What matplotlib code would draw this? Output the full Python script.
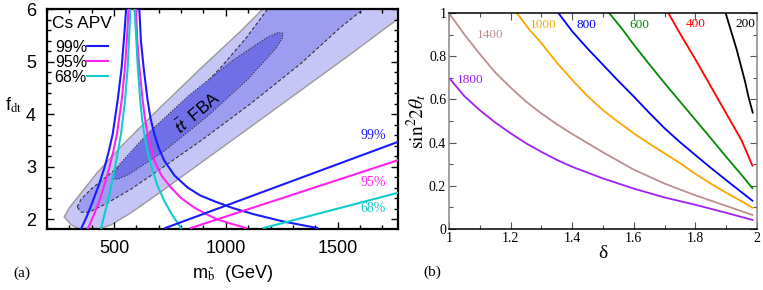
import matplotlib
matplotlib.use("Agg")
import matplotlib.pyplot as plt
from matplotlib.ticker import MultipleLocator

plt.rcParams['font.family'] = ['Liberation Sans', 'DejaVu Sans']
plt.rcParams['mathtext.fontset'] = 'stix'

# ---------------- panel (a): tt FBA regions (boundary points) ----------------
outer_m = [277, 299, 353, 424, 531, 710, 888, 1067, 1165, 1210, 1250, 1900,
           1900, 1772, 1558, 1335, 1112, 888, 710, 576, 487, 420, 353, 308]
outer_f = [2.04, 2.21, 2.50, 2.88, 3.38, 4.14, 4.87, 5.58, 6.00, 6.17, 6.5, 6.5,
           6.1, 5.82, 5.14, 4.45, 3.76, 3.07, 2.52, 2.12, 1.89, 1.79, 1.79, 1.89]

mid_m = [335, 353, 397, 487, 589, 710, 844, 978, 1089, 1187, 1223, 1240,
         1680, 1665, 1616, 1513, 1335, 1112, 888, 710, 576, 464, 388, 353]
mid_f = [2.23, 2.38, 2.57, 2.88, 3.26, 3.72, 4.28, 4.89, 5.44, 6.00, 6.17, 6.5,
         6.5, 6.17, 6.00, 5.65, 4.96, 4.20, 3.49, 2.96, 2.57, 2.29, 2.13, 2.13]

inner_m = [495, 498, 526, 650, 834, 1030, 1184, 1232, 1255, 1252, 1224, 1100,
           916, 720, 566, 518]
inner_f = [2.76, 2.86, 3.05, 3.63, 4.35, 5.02, 5.46, 5.55, 5.54, 5.44, 5.25, 4.67,
           3.95, 3.28, 2.85, 2.76]

# Cs APV bounds: left branch, right branch and straight band per CL
blue_l_m = [352, 378, 405, 432, 457, 477, 494, 516, 534, 546, 554]
blue_l_f = [1.81, 2.05, 2.34, 2.65, 2.98, 3.30, 3.62, 4.26, 4.89, 5.53, 6.0]
mag_l_m = [382, 407, 434, 457, 479, 497, 513, 534, 549, 559, 565]
mag_l_f = [1.81, 2.05, 2.34, 2.65, 2.98, 3.30, 3.62, 4.26, 4.89, 5.53, 6.0]
cyan_l_m = [441, 455, 472, 488, 504, 518, 531, 549, 561, 568, 573]
cyan_l_f = [1.81, 2.05, 2.34, 2.65, 2.98, 3.30, 3.62, 4.26, 4.89, 5.53, 6.0]

blue_r_m = [613, 620, 632, 650, 663, 680, 700, 725, 770, 829, 885, 948, 1030,
            1126, 1260, 1409]
blue_r_f = [6.0, 5.4, 4.89, 4.26, 3.92, 3.62, 3.35, 3.11, 2.83, 2.60, 2.45, 2.34,
            2.21, 2.09, 1.95, 1.83]
mag_r_m = [598, 604, 613, 628, 638, 650, 665, 680, 712, 754, 800, 858, 910, 963,
           1025, 1089]
mag_r_f = [6.0, 5.4, 4.89, 4.26, 3.92, 3.62, 3.35, 3.11, 2.83, 2.60, 2.40, 2.22,
           2.10, 1.99, 1.91, 1.83]
cyan_r_m = [591, 598, 606, 617, 625, 635, 650, 668, 693, 725, 760, 799]
cyan_r_f = [6.0, 5.53, 4.89, 4.26, 3.92, 3.62, 3.28, 2.98, 2.65, 2.34, 2.08, 1.83]

blue_s_m, blue_s_f = [730, 1770], [1.83, 3.47]
mag_s_m, mag_s_f = [844, 1770], [1.83, 3.12]
cyan_s_m, cyan_s_f = [1170, 1770], [1.83, 2.50]

cl_labels = ['99%', '95%', '68%']
cl_label_f = [3.60, 2.70, 2.20]

# ---------------- panel (b): sin^2 2theta_t vs delta ----------------
d_1800 = [1.0, 1.05, 1.1, 1.15, 1.2, 1.25, 1.3, 1.35, 1.4, 1.5, 1.6, 1.7, 1.8,
          1.9, 1.985]
s_1800 = [0.70, 0.615, 0.55, 0.493, 0.443, 0.397, 0.357, 0.32, 0.288, 0.234,
          0.187, 0.146, 0.112, 0.075, 0.042]
d_1400 = [1.0, 1.05, 1.1, 1.15, 1.2, 1.25, 1.3, 1.35, 1.4, 1.5, 1.6, 1.7, 1.8,
          1.9, 1.985]
s_1400 = [1.0, 0.90, 0.81, 0.725, 0.655, 0.59, 0.535, 0.485, 0.44, 0.355, 0.275,
          0.21, 0.156, 0.107, 0.065]
d_1000 = [1.22, 1.26, 1.3, 1.35, 1.4, 1.45, 1.5, 1.55, 1.6, 1.65, 1.7, 1.75, 1.8,
          1.85, 1.9, 1.95, 1.985]
s_1000 = [1.0, 0.925, 0.86, 0.77, 0.69, 0.615, 0.55, 0.495, 0.443, 0.395, 0.35,
          0.305, 0.255, 0.21, 0.168, 0.128, 0.099]
d_800 = [1.355, 1.4, 1.45, 1.5, 1.55, 1.6, 1.65, 1.7, 1.75, 1.8, 1.85, 1.9, 1.95,
         1.985]
s_800 = [1.0, 0.915, 0.835, 0.76, 0.685, 0.613, 0.538, 0.466, 0.402, 0.342, 0.283,
         0.226, 0.17, 0.131]
d_600 = [1.52, 1.56, 1.6, 1.65, 1.7, 1.75, 1.8, 1.85, 1.9, 1.95, 1.985]
s_600 = [1.0, 0.93, 0.853, 0.763, 0.675, 0.59, 0.505, 0.42, 0.334, 0.25, 0.189]
d_400 = [1.712, 1.75, 1.8, 1.85, 1.9, 1.95, 1.985]
s_400 = [1.0, 0.905, 0.785, 0.66, 0.535, 0.41, 0.293]
d_200 = [1.898, 1.934, 1.961, 1.972, 1.986]
s_200 = [1.0, 0.83, 0.683, 0.613, 0.539]

masses = ['1800', '1400', '1000', '800', '600', '400', '200']
colors_b = ['#a020f0', '#bc8f8f', '#ffa500', '#0000ff', '#008b00', '#ff0000', '#000000']
label_d = [1.068, 1.133, 1.304, 1.447, 1.618, 1.802, 1.963]
label_s = [0.69, 0.90, 0.946, 0.946, 0.946, 0.95, 0.95]

fig = plt.figure(figsize=(7.63, 2.90), dpi=100)
ax1 = fig.add_axes([0.0616, 0.2103, 0.460, 0.7586])
ax2 = fig.add_axes([0.5885, 0.2103, 0.4037, 0.7448])

# ---- panel (a) ----
ax1.fill(outer_m, outer_f, facecolor='#c6c6f6', edgecolor='#9a9a9a', lw=1.0, zorder=1)
ax1.fill(mid_m, mid_f, facecolor='#9c9cf0', edgecolor='#333333', lw=0.8,
         ls=(0, (3, 2)), zorder=2)
ax1.fill(inner_m, inner_f, facecolor='#7070e6', edgecolor='#333333', lw=0.8,
         ls=(0, (1, 1.5)), zorder=3)

blue, mag, cyan = '#1a1aff', '#ff22f0', '#10cccc'
lw = 1.5
hb, = ax1.plot(blue_l_m, blue_l_f, color=blue, lw=lw, zorder=5)
hm, = ax1.plot(mag_l_m, mag_l_f, color=mag, lw=lw, zorder=5)
hc, = ax1.plot(cyan_l_m, cyan_l_f, color=cyan, lw=lw, zorder=5)
ax1.plot(blue_r_m, blue_r_f, color=blue, lw=lw, zorder=5)
ax1.plot(mag_r_m, mag_r_f, color=mag, lw=lw, zorder=5)
ax1.plot(cyan_r_m, cyan_r_f, color=cyan, lw=lw, zorder=5)
ax1.plot(blue_s_m, blue_s_f, color=blue, lw=lw, zorder=5)
ax1.plot(mag_s_m, mag_s_f, color=mag, lw=lw, zorder=5)
ax1.plot(cyan_s_m, cyan_s_f, color=cyan, lw=lw, zorder=5)

for lab, fy, c in zip(cl_labels, cl_label_f, [blue, mag, cyan]):
    ax1.text(1715, fy, lab, color=c, ha='right', va='center', fontsize=10,
             family='Liberation Serif')

ax1.text(870, 4.02, r'$\mathsf{t\bar{t}}$  FBA', rotation=40, ha='center',
         va='center', fontsize=12.5, zorder=6)

# legend: title as text, entries below with the line after the label
ax1.text(0.014, 0.936, 'Cs APV', transform=ax1.transAxes, ha='left',
         va='center', fontsize=12.5, zorder=7)
leg = ax1.legend([hb, hm, hc], cl_labels, loc='upper left',
                 bbox_to_anchor=(0.022, 0.86), markerfirst=False,
                 frameon=False, fontsize=11.5, handlelength=1.3,
                 handletextpad=0.0, labelspacing=0.0, borderaxespad=0.0,
                 borderpad=0.0)
leg.set_zorder(7)

ax1.set_xlim(200, 1770)
ax1.set_ylim(1.81, 6)
ax1.set_xticks([500, 1000, 1500])
ax1.xaxis.set_minor_locator(MultipleLocator(100))
ax1.set_yticks([2, 3, 4, 5, 6])
ax1.set_yticklabels(['2', '3', '4', '5', '6'])
ax1.yaxis.set_minor_locator(MultipleLocator(0.2))
ax1.tick_params(which='both', direction='in', top=True, right=True,
                labelsize=13, width=1)
ax1.tick_params(which='major', length=5, pad=8)
ax1.tick_params(which='minor', length=3)
for s in ax1.spines.values():
    s.set_linewidth(1.6)
ax1.set_xlabel(r'm$_{\tilde{\rm b}}$  (GeV)', fontsize=13)
ax1.xaxis.set_label_coords(0.53, -0.155)
ax1.set_ylabel(r'f$_{\rm dt}$', fontsize=13, rotation=0)
ax1.yaxis.set_label_coords(-0.095, 0.52)

# ---- panel (b) ----
curves = [(d_1800, s_1800), (d_1400, s_1400), (d_1000, s_1000), (d_800, s_800),
          (d_600, s_600), (d_400, s_400), (d_200, s_200)]
for (d, s), c, lab, ld, ls_ in zip(curves, colors_b, masses, label_d, label_s):
    ax2.plot(d, s, color=c, lw=1.3)
    ax2.text(ld, ls_, lab, color=c, ha='center', va='center', fontsize=9.5,
             family='Liberation Serif')

ax2.set_xlim(1, 2)
ax2.set_ylim(0, 1)
ax2.set_xticks([1, 1.2, 1.4, 1.6, 1.8, 2])
ax2.set_xticklabels(['1', '1.2', '1.4', '1.6', '1.8', '2'])
ax2.set_yticks([0, 0.2, 0.4, 0.6, 0.8, 1])
ax2.set_yticklabels(['0', '0.2', '0.4', '0.6', '0.8', '1'])
ax2.xaxis.set_minor_locator(MultipleLocator(0.1))
ax2.yaxis.set_minor_locator(MultipleLocator(0.1))
ax2.tick_params(which='both', direction='in', top=True, right=True,
                labelsize=10, width=0.8, color='#555555')
ax2.tick_params(which='major', length=5, pad=2)
ax2.tick_params(which='minor', length=3)
for lbl in ax2.get_xticklabels() + ax2.get_yticklabels():
    lbl.set_family('Liberation Serif')
for side in ['left', 'right']:
    ax2.spines[side].set_color('#888888')
for s in ax2.spines.values():
    s.set_linewidth(1.1)
ax2.set_xlabel('δ', fontsize=14, family='Liberation Serif', labelpad=0)
ax2.set_ylabel(r'$\mathrm{sin}^2 2\theta_t$', fontsize=14, labelpad=0)

fig.text(22 / 763, 1 - 273 / 290, '(a)', family='Liberation Serif', fontsize=11,
         ha='center', va='center')
fig.text(432 / 763, 1 - 272 / 290, '(b)', family='Liberation Serif', fontsize=11,
         ha='center', va='center')

fig.savefig('out.png', dpi=100)
